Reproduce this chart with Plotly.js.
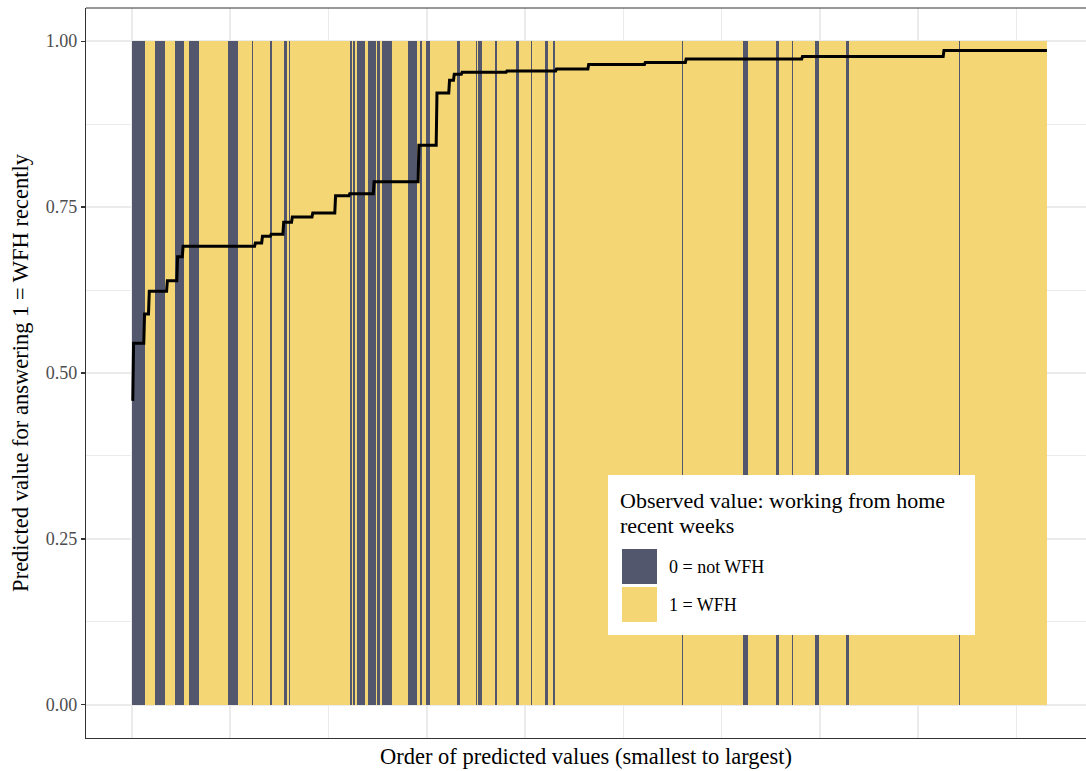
<!DOCTYPE html>
<html><head><meta charset="utf-8">
<script src="https://cdn.plot.ly/plotly-3.0.1.min.js"></script>
<style>html,body{margin:0;padding:0;background:#fff;}#chart{width:1086px;height:771px;}</style>
</head><body><div id="chart"></div>
<script>
// ---- data ----
const nObs = 1164;
// runs of observations with observed value 0 (not WFH): start index and length
const notWfhStart  = [1, 30, 55, 73, 89, 123, 153, 176, 194, 200, 278, 282, 287, 301, 312, 319, 352, 367, 375, 414, 438, 441, 462, 489, 508, 526, 536, 700, 778, 820, 840, 869, 909, 1053];
const notWfhLength = [16, 12, 12, 13, 1, 12, 2, 2, 4, 2, 3, 2, 10, 10, 4, 12, 11, 2, 5, 4, 2, 5, 3, 4, 2, 4, 3, 1, 6, 3, 2, 5, 4, 1];
// predicted values, sorted: plateau level and number of observations at that level
const predLevels = [0.458, 0.545, 0.589, 0.623, 0.639, 0.675, 0.691, 0.696, 0.706, 0.709, 0.727, 0.735, 0.741, 0.767, 0.770, 0.788, 0.843, 0.922, 0.941, 0.950, 0.953, 0.955, 0.958, 0.965, 0.968, 0.973, 0.977, 0.986];
const predCounts = [1, 14, 6, 23, 13, 7, 92, 9, 11, 16, 11, 26, 29, 18, 31, 57, 23, 16, 6, 10, 57, 63, 41, 72, 52, 148, 180, 132];
const yTickVals = [0, 0.25, 0.5, 0.75, 1];
const yTickText = ["0.00", "0.25", "0.50", "0.75", "1.00"];
const yMinorVals = [0.125, 0.375, 0.625, 0.875];
const legendTitleLines = ["Observed value: working from home", "recent weeks"];
const legendLabels = ["0 = not WFH", "1 = WFH"];
const xTitle = "Order of predicted values (smallest to largest)";
const yTitle = "Predicted value for answering 1 = WFH recently";

// ---- build ----
const COL0 = '#52576E', COL1 = '#F4D675';
const observed = new Array(nObs).fill(1);
notWfhStart.forEach((s, k) => { for (let i = 0; i < notWfhLength[k]; i++) observed[s - 1 + i] = 0; });
const predicted = [];
predLevels.forEach((v, k) => { for (let i = 0; i < predCounts[k]; i++) predicted.push(v); });
const order = predicted.map((_, i) => i + 1);

const x1 = [], x0 = [];
observed.forEach((o, i) => { (o === 1 ? x1 : x0).push(i + 1); });

const FONT = 'Liberation Serif, "DejaVu Serif", serif';
const traces = [
  {type: 'bar', x: x1, y: x1.map(() => 1), width: 1, marker: {color: COL1, line: {width: 0}}, hoverinfo: 'skip', showlegend: false},
  {type: 'bar', x: x0, y: x0.map(() => 1), width: 1, marker: {color: COL0, line: {width: 0}}, hoverinfo: 'skip', showlegend: false},
  {type: 'scatter', mode: 'lines', x: order, y: predicted, line: {color: '#000', width: 3}, hoverinfo: 'skip', showlegend: false}
];

// legend geometry in paper coords
const px = v => (v - 86) / 1000, py = v => (737 - v) / 730;
const shapes = [
  {type: 'line', xref: 'paper', yref: 'paper', x0: 0, x1: 1, y0: 1, y1: 1, line: {color: '#333', width: 1.2}, layer: 'above'},
  {type: 'rect', xref: 'paper', yref: 'paper', x0: px(608), x1: px(975), y0: py(634), y1: py(474), fillcolor: '#fff', line: {width: 0}, layer: 'above'},
  {type: 'rect', xref: 'paper', yref: 'paper', x0: px(622), x1: px(657), y0: py(583), y1: py(548), fillcolor: COL0, line: {width: 0}, layer: 'above'},
  {type: 'rect', xref: 'paper', yref: 'paper', x0: px(622), x1: px(657), y0: py(621), y1: py(586), fillcolor: COL1, line: {width: 0}, layer: 'above'}
];
const annotations = [
  {xref: 'paper', yref: 'paper', x: px(618), y: py(500), xanchor: 'left', yanchor: 'middle', align: 'left', showarrow: false, text: legendTitleLines[0], font: {family: FONT, size: 22, color: '#000'}},
  {xref: 'paper', yref: 'paper', x: px(618), y: py(524), xanchor: 'left', yanchor: 'middle', align: 'left', showarrow: false, text: legendTitleLines[1], font: {family: FONT, size: 22, color: '#000'}},
  {xref: 'paper', yref: 'paper', x: px(667), y: py(566), xanchor: 'left', yanchor: 'middle', showarrow: false, text: legendLabels[0], font: {family: FONT, size: 18, color: '#000'}},
  {xref: 'paper', yref: 'paper', x: px(667), y: py(604), xanchor: 'left', yanchor: 'middle', showarrow: false, text: legendLabels[1], font: {family: FONT, size: 18, color: '#000'}}
];

const layout = {
  width: 1086, height: 771,
  margin: {l: 86, r: 0, t: 8, b: 33},
  paper_bgcolor: '#fff', plot_bgcolor: '#fff',
  barmode: 'overlay', bargap: 0, showlegend: false,
  font: {family: FONT, color: '#000'},
  xaxis: {range: [-58.5, 1213.7], tick0: 0, dtick: 125, showticklabels: false, ticks: '',
          showgrid: true, gridcolor: '#ebebeb', gridwidth: 1.5, zeroline: false,
          showline: true, linecolor: '#333', linewidth: 1.2,
          title: {text: xTitle, font: {family: FONT, size: 22.5, color: '#000'}, standoff: 10}},
  yaxis: {range: [-0.05, 1.05], tickmode: 'array', tickvals: yTickVals, ticktext: yTickText,
          ticks: 'outside', ticklen: 4, tickcolor: '#333', tickwidth: 1.2,
          tickfont: {family: FONT, size: 18, color: '#4d4d4d'},
          showgrid: true, gridcolor: '#ebebeb', gridwidth: 1.5, zeroline: false,
          minor: {tickvals: yMinorVals, showgrid: true, gridcolor: '#ebebeb', gridwidth: 1, ticks: ''},
          showline: true, linecolor: '#333', linewidth: 1.2,
          title: {text: yTitle, font: {family: FONT, size: 22.5, color: '#000'}, standoff: 10}},
  shapes: shapes, annotations: annotations
};
Plotly.newPlot('chart', traces, layout, {displayModeBar: false, staticPlot: true});
</script></body></html>
